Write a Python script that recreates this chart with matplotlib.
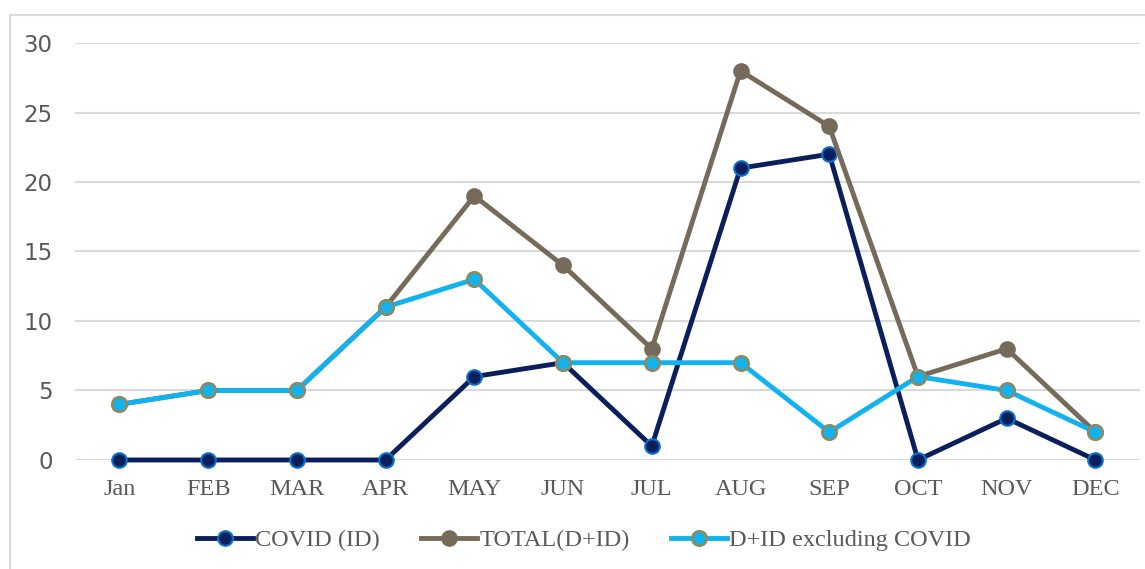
import matplotlib
matplotlib.use("Agg")
import matplotlib.pyplot as plt
from matplotlib.patches import Rectangle

months = ["Jan", "FEB", "MAR", "APR", "MAY", "JUN", "JUL", "AUG", "SEP", "OCT", "NOV", "DEC"]
covid = [0, 0, 0, 0, 6, 7, 1, 21, 22, 0, 3, 0]
total = [4, 5, 5, 11, 19, 14, 8, 28, 24, 6, 8, 2]
excl_covid = [4, 5, 5, 11, 13, 7, 7, 7, 2, 6, 5, 2]

fig = plt.figure(figsize=(11.45, 5.69), dpi=100)
ax = fig.add_axes([0.0655, 0.1916, 0.93, 0.7328])

# outer chart border
fig.patches.append(Rectangle((10 / 1145, -0.1), 1.2, 1 - 15 / 569 + 0.1,
                             transform=fig.transFigure, fill=False,
                             edgecolor="#d9d9d9", linewidth=1.5))

x = list(range(len(months)))
ax.plot(x, covid, "-o", color="#0b1f5c", lw=3.5, ms=10.5,
        mfc="#0b1f5c", mec="#0a72c8", mew=1.5, clip_on=False, zorder=3,
        label="COVID (ID)")
ax.plot(x, total, "-o", color="#766b5b", lw=3.5, ms=10.5,
        mfc="#766b5b", mec="#766b5b", mew=1.5, clip_on=False, zorder=4,
        label="TOTAL(D+ID)")
ax.plot(x, excl_covid, "-o", color="#12b2ee", lw=3.5, ms=10.5,
        mfc="#12b2ee", mec="#8f8a5e", mew=1.8, clip_on=False, zorder=5,
        label="D+ID excluding COVID")

ax.set_xlim(-0.5, len(months) - 0.5)
ax.set_ylim(0, 30)
ax.set_yticks(range(0, 31, 5))
ax.set_xticks(x)
ax.set_xticklabels(months, fontfamily="Liberation Serif", fontsize=17.5, color="#595959")
for lbl in ax.get_yticklabels():
    lbl.set_fontsize(16.5)
    lbl.set_color("#595959")
ax.tick_params(axis="both", length=0)
ax.tick_params(axis="x", pad=14)
ax.tick_params(axis="y", pad=16)
ax.grid(axis="y", color="#d9d9d9", lw=1.5)
ax.set_axisbelow(True)
for s in ax.spines.values():
    s.set_visible(False)

fig.legend(loc="center", bbox_to_anchor=(0.51, 1 - 540 / 569), ncol=3, frameon=False,
           prop={"family": "Liberation Serif", "size": 17.5}, labelcolor="#595959",
           handlelength=2.3, handletextpad=0.1, columnspacing=1.7)

fig.savefig("out.png", dpi=100)
